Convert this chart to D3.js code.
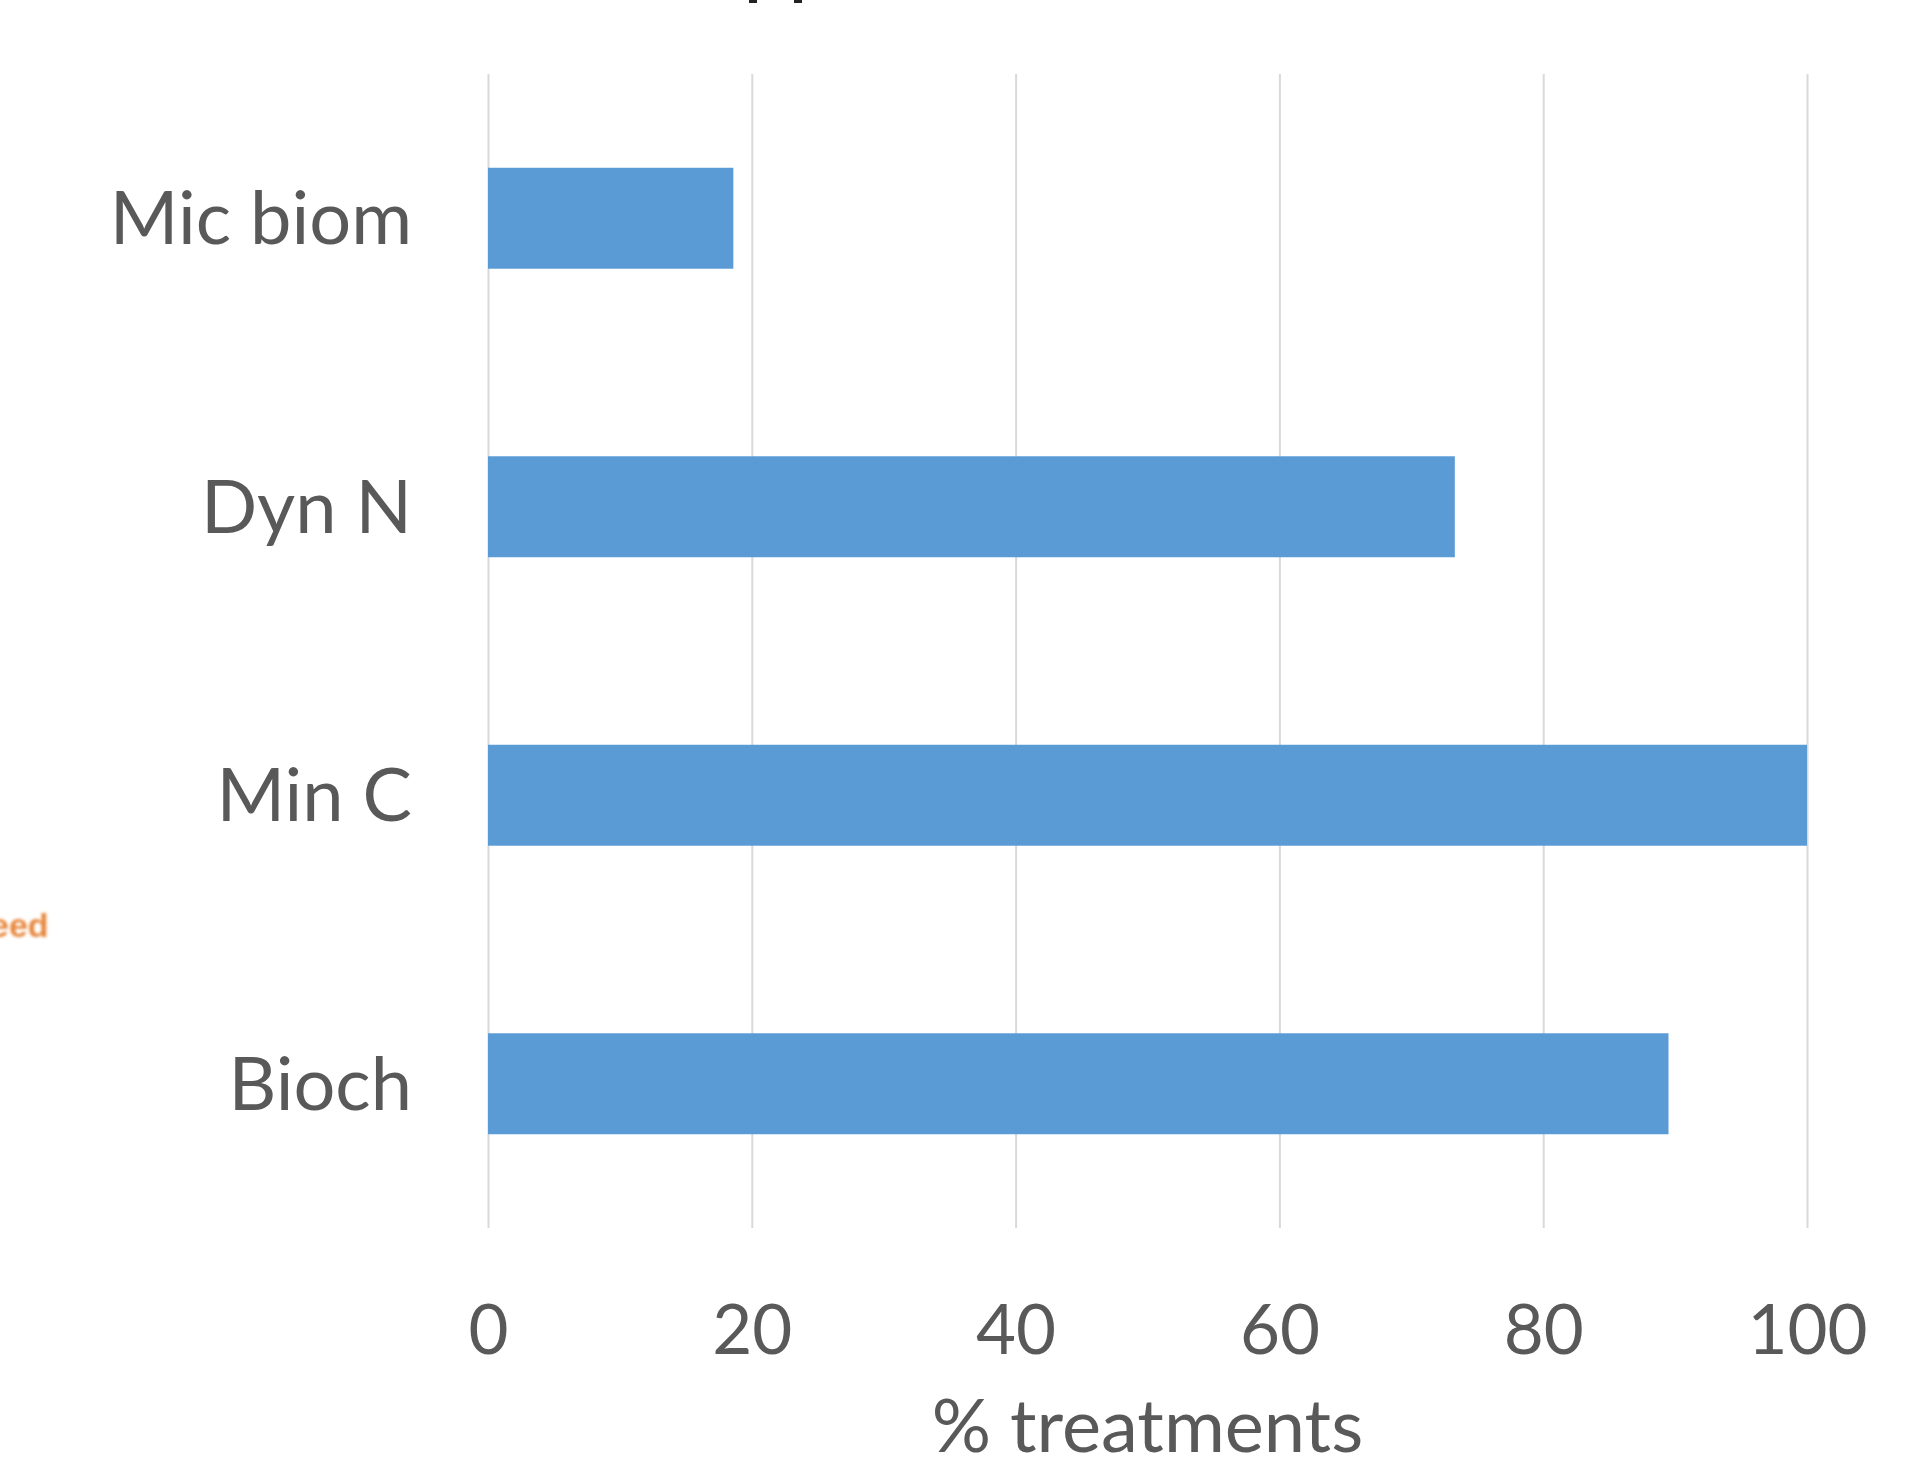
<!DOCTYPE html>
<html>
<head>
<meta charset="utf-8">
<script src="https://cdn.jsdelivr.net/npm/d3@7"></script>
<style>
  html, body { margin: 0; padding: 0; background: #ffffff; }
  svg { display: block; }
</style>
</head>
<body>
<svg id="chart" width="1929" height="1472"></svg>
<script>
// ---- data ----
const categories = ["Mic biom", "Dyn N", "Min C", "Bioch"];
const values = [18.6, 73.3, 100, 89.5];
const xTicks = [0, 20, 40, 60, 80, 100];
const xTitle = "% treatments";

// ---- layout ----
const W = 1929, H = 1472;
const plot = { left: 488, right: 1807, top: 74, bottom: 1228 };
const textColor = "#595959";
const barColor = "#5B9BD5";
const gridColor = "#D9D9D9";
const fontFamily = "Lato, 'Open Sans', sans-serif";

const svg = d3.select("#chart");

const x = d3.scaleLinear().domain([0, 100]).range([plot.left, plot.right]);
const y = d3.scaleBand().domain(categories).range([plot.top, plot.bottom])
  .paddingInner(0.65).paddingOuter(0.325);

// gridlines via axis
const grid = svg.append("g")
  .attr("transform", `translate(0,${plot.bottom})`)
  .call(d3.axisBottom(x).tickValues(xTicks).tickSize(-(plot.bottom - plot.top)).tickFormat(""));
grid.select(".domain").remove();
grid.selectAll(".tick line").attr("stroke", gridColor).attr("stroke-width", 2);

// bars
svg.append("g").selectAll("rect")
  .data(categories.map((c, i) => ({ c, v: values[i] })))
  .join("rect")
  .attr("x", x(0))
  .attr("y", d => y(d.c))
  .attr("width", d => x(d.v) - x(0))
  .attr("height", y.bandwidth())
  .attr("fill", barColor);

// x axis tick labels
const xa = svg.append("g")
  .attr("transform", `translate(0,${plot.bottom})`)
  .call(d3.axisBottom(x).tickValues(xTicks).tickSize(0).tickPadding(0));
xa.select(".domain").remove();
xa.selectAll(".tick text")
  .attr("y", 126)
  .attr("dy", 0)
  .attr("fill", textColor)
  .style("font-family", fontFamily)
  .style("font-size", "69px");

// y axis category labels
const ya = svg.append("g")
  .attr("transform", `translate(${plot.left},0)`)
  .call(d3.axisLeft(y).tickSize(0).tickPadding(76));
ya.select(".domain").remove();
ya.selectAll(".tick text")
  .attr("dy", "0.35em")
  .attr("fill", textColor)
  .style("font-family", fontFamily)
  .style("font-size", "74px");

// axis title
svg.append("text")
  .attr("x", (plot.left + plot.right) / 2)
  .attr("y", 1452)
  .attr("text-anchor", "middle")
  .attr("fill", textColor)
  .style("font-family", fontFamily)
  .style("font-size", "74px")
  .text(xTitle);

// remnants of surrounding slide
const defs = svg.append("defs");
defs.append("filter").attr("id", "blur").append("feGaussianBlur").attr("stdDeviation", 1.6);
svg.append("text")
  .attr("x", -10).attr("y", 937)
  .attr("fill", "#E8873E")
  .attr("filter", "url(#blur)")
  .style("font-family", "'Liberation Sans', sans-serif")
  .style("font-weight", "bold")
  .style("font-size", "34px")
  .text("eed");
svg.append("rect").attr("x", 749).attr("y", 0).attr("width", 8).attr("height", 3).attr("fill", "#222");
svg.append("rect").attr("x", 794).attr("y", 0).attr("width", 8).attr("height", 3).attr("fill", "#222");
</script>
</body>
</html>
